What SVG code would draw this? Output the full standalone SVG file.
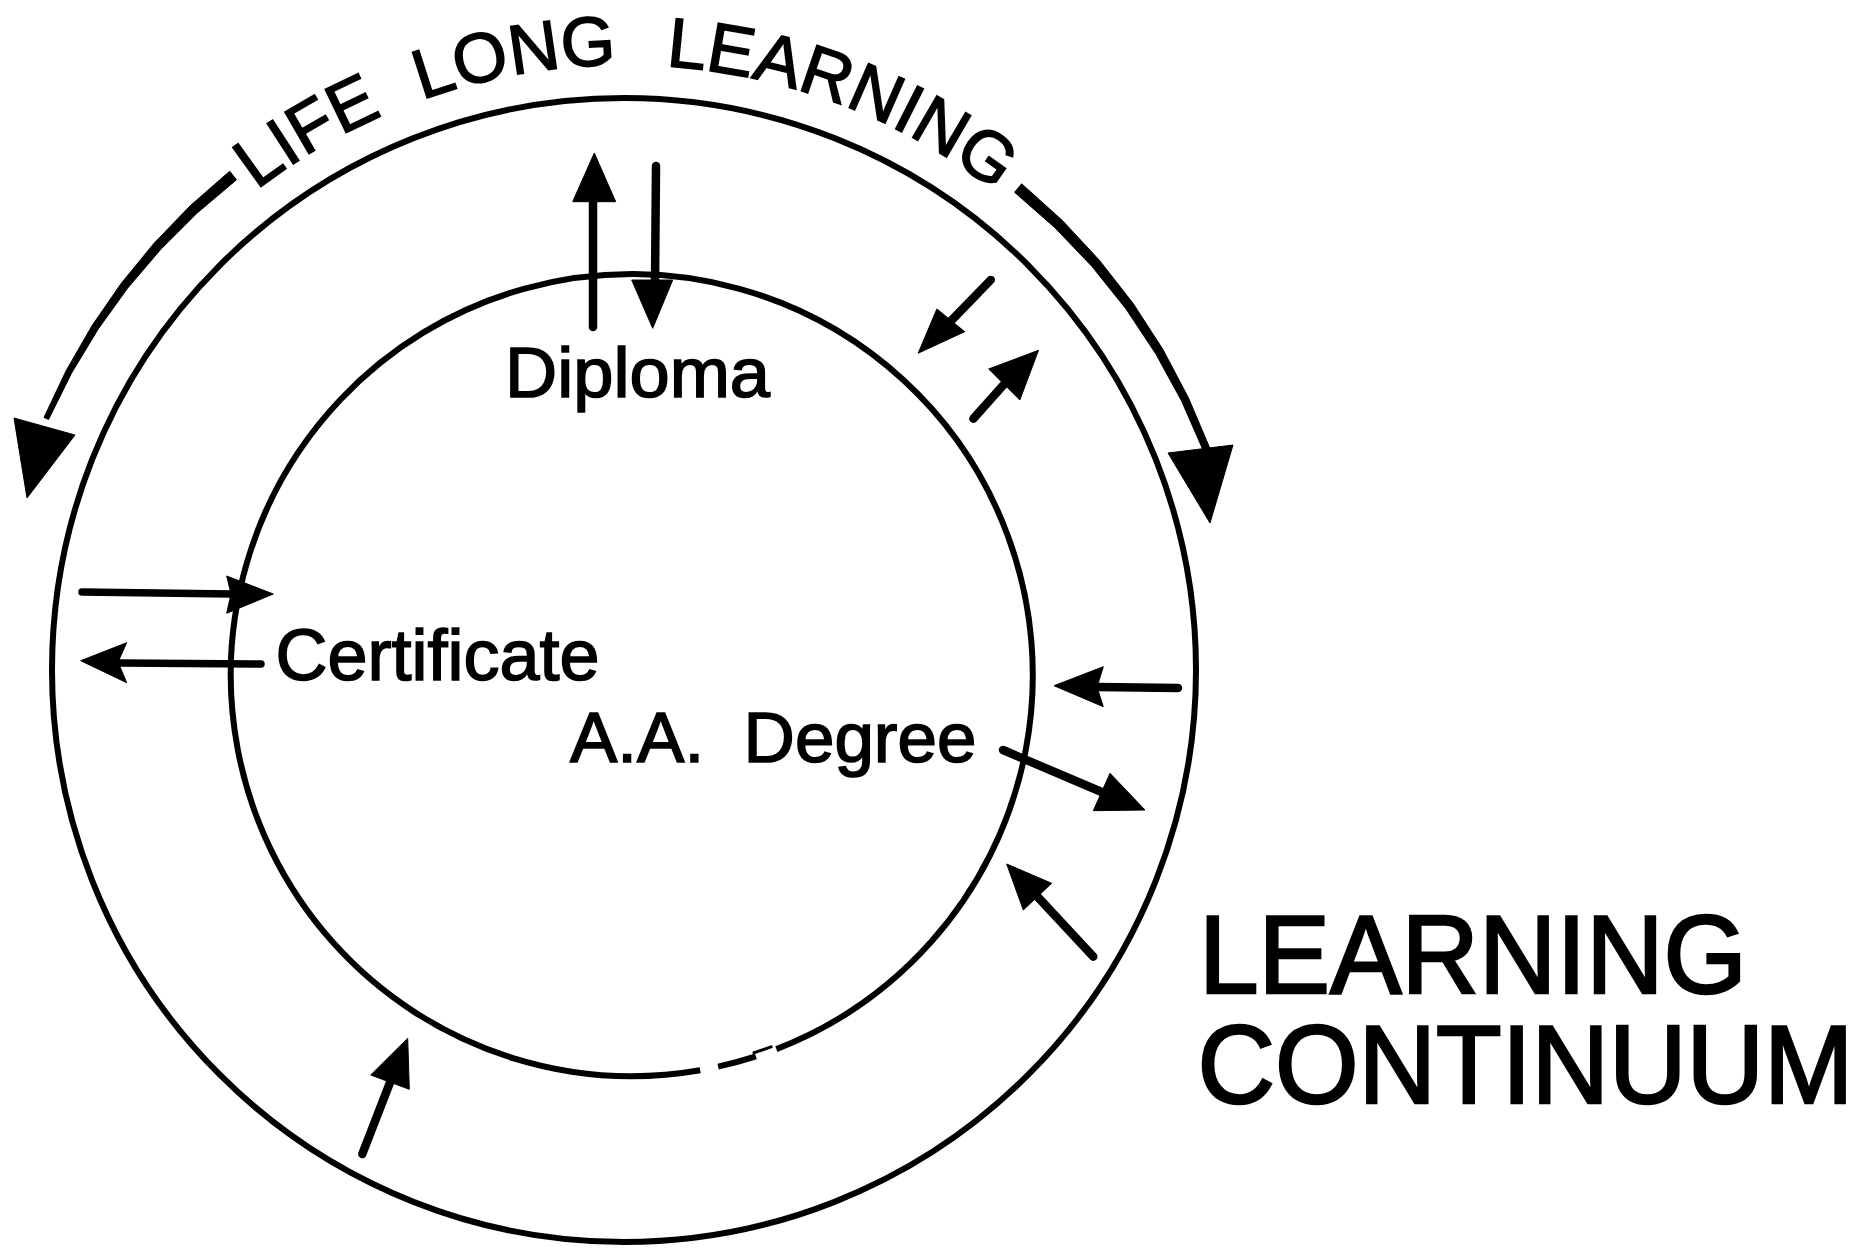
<svg xmlns="http://www.w3.org/2000/svg" width="1870" height="1253" viewBox="0 0 1870 1253">
  <style>
    .ring { fill: none; stroke: #000; stroke-width: 6; }
    .ring-thin { fill: none; stroke: #000; stroke-width: 3; }
    .shaft { fill: none; stroke: #000; stroke-width: 8.5; stroke-linecap: round; }
    .shaft-thin { fill: none; stroke: #000; stroke-width: 7.5; stroke-linecap: round; }
    .head { fill: #000; stroke: #000; stroke-width: 1; stroke-linejoin: round; }
    .sweep { fill: #000; stroke: #000; stroke-width: 1; stroke-linejoin: round; }
    .lbl { font-family: "Liberation Sans", Arial, Helvetica, sans-serif; fill: #000; stroke: #000; stroke-width: 1.6; }
    .big { stroke-width: 2.6; }
  </style>
  <defs>
    <!-- baseline for the curved heading, concentric with the outer ring -->
    <path id="lllArc" d="M236.1,206.5 A605,605 0 0,1 1088.5,281.1"/>
  </defs>

  <rect width="1870" height="1253" fill="#fff"/>

  <!-- outer ring: life long learning -->
  <g id="outer-ring">
    <circle class="ring" cx="624" cy="670" r="572"/>
  </g>

  <!-- inner ring: formal programmes, with a break near the bottom -->
  <g id="inner-ring">
    <path class="ring" d="M776.4,1049.1 A401,401 0 1,0 700.2,1070.2"/>
    <path class="ring" d="M718.1,1066.6 A401,401 0 0,0 755.9,1056.4" stroke-width="4.5"/>
    <path class="ring-thin" d="M752.7,1053.2 A397,397 0 0,0 772.3,1046.4"/>
  </g>

  <!-- curved heading with the two sweeping arrows -->
  <g id="life-long-learning">
    <text class="lbl" font-size="70" stroke-width="2"><textPath href="#lllArc" startOffset="26">LIFE<tspan dx="22"> LONG</tspan><tspan dx="30"> LEARNING</tspan></textPath></text>
    <!-- left sweep, tapering toward its head -->
    <path class="sweep" d="M229.7,171.2 L190.4,205.6 L154.2,243.1 L121.2,283.4 L92.3,325.3 L66.3,370.4 L44,417.4 L48.6,419.4 L71.5,373.2 L98.2,329.1 L127.5,288.3 L160.9,249.2 L197.3,212.9 L236.5,179.8 Z"/>
    <polygon class="head" points="14,418 75,435 27,498"/>
    <!-- right sweep -->
    <path class="sweep" d="M1021.6,183.8 L1062.3,220.4 L1099.5,260.4 L1133.2,303.5 L1162.9,349.4 L1188.4,397.7 L1209.7,447.9 L1203.2,450.4 L1181.6,401 L1155.7,353.7 L1125.9,308.8 L1092.2,266.7 L1055,227.8 L1014.6,192.3 Z"/>
    <polygon class="head" points="1168,453 1233,445 1210,523"/>
  </g>

  <g id="diploma">
    <text class="lbl" x="505" y="397" font-size="71" textLength="265" lengthAdjust="spacingAndGlyphs">Diploma</text>
  </g>

  <g id="certificate">
    <text class="lbl" x="275.5" y="680" font-size="73" textLength="324" lengthAdjust="spacingAndGlyphs">Certificate</text>
  </g>

  <g id="aa-degree">
    <text class="lbl" x="570" y="762" font-size="71" xml:space="preserve">A.A.  Degree</text>
  </g>

  <g id="learning-continuum">
    <text class="lbl big" x="1199" y="993" font-size="112" textLength="548" lengthAdjust="spacingAndGlyphs">LEARNING</text>
    <text class="lbl big" x="1197.5" y="1103" font-size="112" textLength="656" lengthAdjust="spacingAndGlyphs">CONTINUUM</text>
  </g>

  <!-- entry and exit arrows across the rings -->
  <g id="connectors">
    <!-- diploma: out and in -->
    <line class="shaft" x1="593" y1="327" x2="593" y2="198"/>
    <polygon class="head" points="572.7,201.7 615.7,201.7 594.3,153"/>
    <line class="shaft" x1="656" y1="166" x2="655" y2="284"/>
    <polygon class="head" points="631.7,280 672.7,280 652.7,328.3"/>

    <!-- upper right pair -->
    <line class="shaft" x1="990.8" y1="279.9" x2="948" y2="324"/>
    <polygon class="head" points="936.9,308.9 964.7,331.7 918.2,353.2"/>
    <line class="shaft" x1="973.4" y1="418.7" x2="1007" y2="381"/>
    <polygon class="head" points="988.7,369 1019.8,400 1038.5,350.3"/>

    <!-- certificate: in and out -->
    <line class="shaft-thin" x1="82" y1="592" x2="232" y2="594"/>
    <polygon class="head" points="226.7,576 273.3,594 226.7,613.3 231,594"/>
    <line class="shaft-thin" x1="261" y1="664" x2="120" y2="663"/>
    <polygon class="head" points="126.7,642.7 80.7,660.7 126.7,682.7 118,662"/>

    <!-- right side -->
    <line class="shaft" x1="1178" y1="688" x2="1098" y2="687"/>
    <polygon class="head" points="1103.3,666.7 1054,685.7 1103.3,706.7 1097,687"/>
    <line class="shaft" x1="1003" y1="750" x2="1104" y2="793"/>
    <polygon class="head" points="1110,773.3 1145,810 1093.3,810.7"/>
    <line class="shaft" x1="1093.3" y1="956.7" x2="1035" y2="894"/>
    <polygon class="head" points="1051.7,883.3 1006.7,864 1023.3,910"/>

    <!-- bottom -->
    <line class="shaft" x1="362.3" y1="1154" x2="391" y2="1080"/>
    <polygon class="head" points="370.7,1075 407.7,1038.3 409.3,1089.3"/>
  </g>
</svg>
